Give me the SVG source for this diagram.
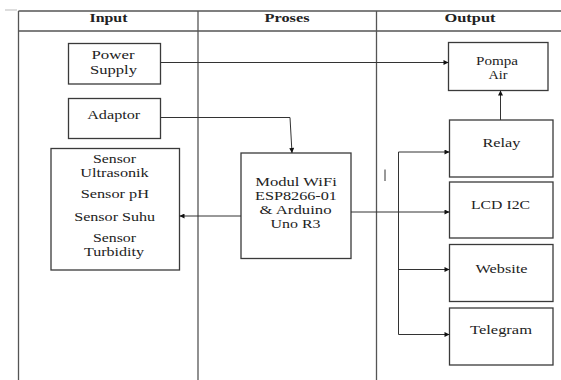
<svg xmlns="http://www.w3.org/2000/svg" width="561" height="380" viewBox="0 0 561 380">
<style>
.bx{fill:#fff;stroke:#3a3a3a;stroke-width:1.3}
.ln{fill:none;stroke:#555;stroke-width:1.3}
.cn{fill:none;stroke:#333;stroke-width:1}
text{font-family:"Liberation Serif","Times New Roman",serif;font-size:12px;fill:#222;text-anchor:middle}
.h{font-weight:bold}
</style>
<defs>
<marker id="ah" viewBox="0 0 10 10" refX="10" refY="5" markerWidth="7" markerHeight="5" markerUnits="userSpaceOnUse" orient="auto">
<path d="M0,0 L10,5 L0,10 z" fill="#111"/>
</marker>
</defs>
<rect width="561" height="380" fill="#fff"/>
<g id="table">
<line x1="5" y1="10" x2="17" y2="10" stroke="#bbb" stroke-width="1"/>
<line class="ln" x1="18.5" y1="11" x2="561" y2="11"/>
<line class="ln" x1="18.5" y1="31" x2="561" y2="31"/>
<line class="ln" x1="18.5" y1="11" x2="18.5" y2="380"/>
<line class="ln" x1="198" y1="11" x2="198" y2="380"/>
<line class="ln" x1="376.5" y1="11" x2="376.5" y2="380"/>
<text class="h" x="108.5" y="22" textLength="38" lengthAdjust="spacingAndGlyphs">Input</text>
<text class="h" x="287" y="22" textLength="45" lengthAdjust="spacingAndGlyphs">Proses</text>
<text class="h" x="470" y="22" textLength="51" lengthAdjust="spacingAndGlyphs">Output</text>
</g>
<g id="power-supply">
<rect class="bx" x="68.5" y="43.5" width="92" height="40.5"/>
<text x="113" y="59" textLength="43" lengthAdjust="spacingAndGlyphs">Power</text>
<text x="113.5" y="73.5" textLength="47" lengthAdjust="spacingAndGlyphs">Supply</text>
</g>
<g id="adaptor">
<rect class="bx" x="68.5" y="98.5" width="92" height="40"/>
<text x="113.7" y="119" textLength="53" lengthAdjust="spacingAndGlyphs">Adaptor</text>
</g>
<g id="sensors">
<rect class="bx" x="51" y="148.5" width="128.5" height="121.5"/>
<text x="114.5" y="163" textLength="43" lengthAdjust="spacingAndGlyphs">Sensor</text>
<text x="114.5" y="177" textLength="68.5" lengthAdjust="spacingAndGlyphs">Ultrasonik</text>
<text x="114.8" y="197.5" textLength="68.3" lengthAdjust="spacingAndGlyphs">Sensor pH</text>
<text x="114.7" y="221" textLength="81" lengthAdjust="spacingAndGlyphs">Sensor Suhu</text>
<text x="114.5" y="241.5" textLength="43" lengthAdjust="spacingAndGlyphs">Sensor</text>
<text x="114" y="256" textLength="60" lengthAdjust="spacingAndGlyphs">Turbidity</text>
</g>
<g id="modul">
<rect class="bx" x="241" y="153" width="110" height="105.5"/>
<text x="296" y="186" textLength="81.5" lengthAdjust="spacingAndGlyphs">Modul WiFi</text>
<text x="296" y="200" textLength="82" lengthAdjust="spacingAndGlyphs">ESP8266-01</text>
<text x="295.5" y="214" textLength="72" lengthAdjust="spacingAndGlyphs">&amp; Arduino</text>
<text x="295.5" y="228" textLength="50" lengthAdjust="spacingAndGlyphs">Uno R3</text>
</g>
<g id="pompa-air">
<rect class="bx" x="448.5" y="42.5" width="99.5" height="48"/>
<text x="497" y="64.5" textLength="42" lengthAdjust="spacingAndGlyphs">Pompa</text>
<text x="498" y="78.5" textLength="19" lengthAdjust="spacingAndGlyphs">Air</text>
</g>
<g id="relay">
<rect class="bx" x="449.5" y="120" width="103.5" height="57"/>
<text x="501.5" y="147.3" textLength="38" lengthAdjust="spacingAndGlyphs">Relay</text>
</g>
<g id="lcd">
<rect class="bx" x="449.5" y="182" width="103.5" height="56"/>
<text x="500.5" y="209" textLength="59" lengthAdjust="spacingAndGlyphs">LCD I2C</text>
</g>
<g id="website">
<rect class="bx" x="449.5" y="244.5" width="103.5" height="57"/>
<text x="501.5" y="273.3" textLength="52" lengthAdjust="spacingAndGlyphs">Website</text>
</g>
<g id="telegram">
<rect class="bx" x="449.5" y="308" width="103.5" height="57"/>
<text x="501" y="334" textLength="62" lengthAdjust="spacingAndGlyphs">Telegram</text>
</g>
<g id="connectors">
<line class="cn" x1="160.5" y1="62.5" x2="448.5" y2="62.5" marker-end="url(#ah)"/>
<line class="cn" x1="500.5" y1="120" x2="500.5" y2="90.5" marker-end="url(#ah)"/>
<polyline class="cn" points="160.5,117.5 290,117.5 292,153" marker-end="url(#ah)"/>
<line class="cn" x1="241" y1="216" x2="179.5" y2="216" marker-end="url(#ah)"/>
<line class="cn" x1="351" y1="212" x2="449.5" y2="212" marker-end="url(#ah)"/>
<line class="cn" x1="398.5" y1="152" x2="398.5" y2="334.5"/>
<line class="cn" x1="398.5" y1="152" x2="449.5" y2="152" marker-end="url(#ah)"/>
<line class="cn" x1="398.5" y1="269.5" x2="449.5" y2="269.5" marker-end="url(#ah)"/>
<line class="cn" x1="398.5" y1="334.5" x2="449.5" y2="334.5" marker-end="url(#ah)"/>
<line class="cn" x1="385" y1="169.5" x2="385" y2="181"/>
</g>
</svg>
